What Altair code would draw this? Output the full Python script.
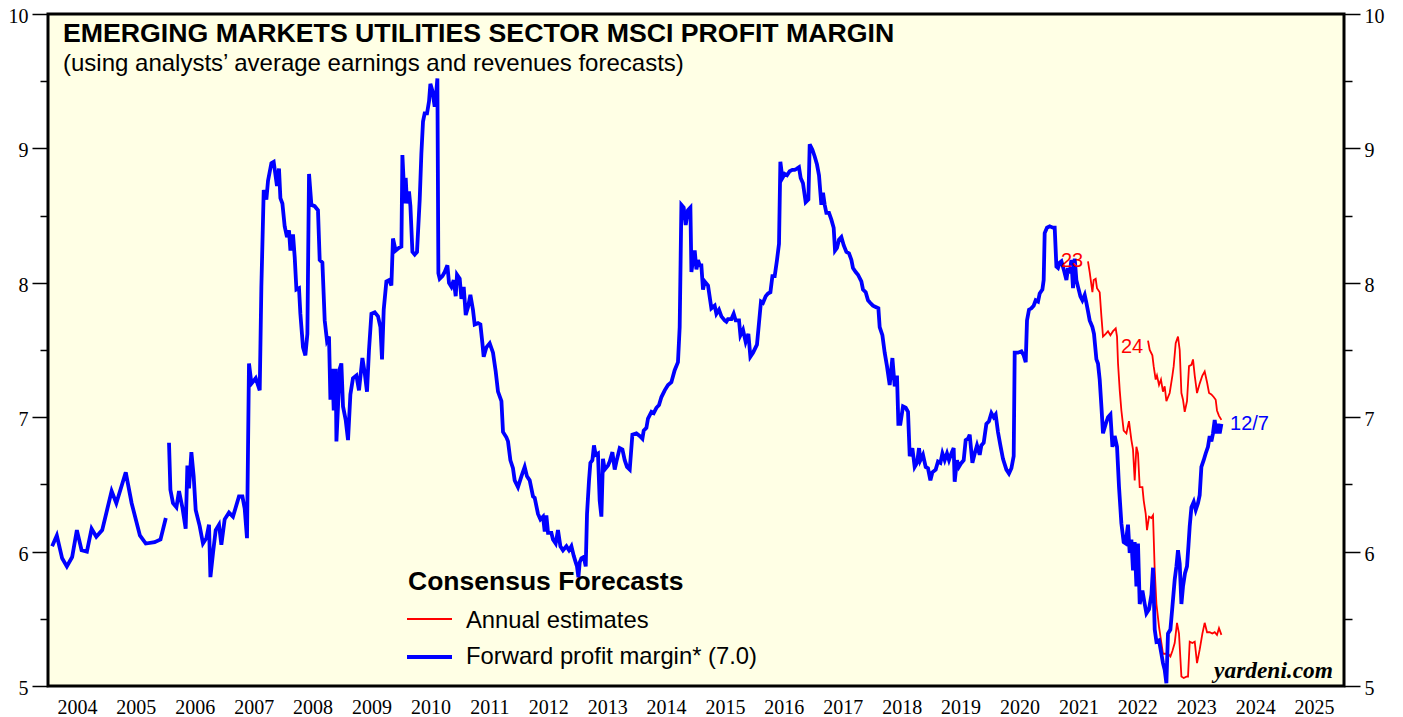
import altair as alt
import pandas as pd

W, H = 1296, 672

# ---------------- data ----------------
# forward profit margin, first stretch (2004-2005)
fwd_a_year = [2004.07, 2004.15, 2004.24, 2004.32, 2004.41, 2004.49, 2004.57, 2004.66, 2004.74, 2004.82,
              2004.92, 2005.08, 2005.16, 2005.32, 2005.42, 2005.56, 2005.66, 2005.81, 2005.91, 2006.00]
fwd_a_val = [6.04, 6.12, 5.95, 5.89, 5.96, 6.16, 6.01, 6.00, 6.17, 6.11,
             6.16, 6.45, 6.36, 6.59, 6.36, 6.12, 6.06, 6.07, 6.09, 6.25]

# forward profit margin 2006 - early 2009
fwd_b_year = [
    2006.054, 2006.078, 2006.122, 2006.180, 2006.224, 2006.281, 2006.337, 2006.366, 2006.394, 2006.434,
    2006.473, 2006.507, 2006.575, 2006.631, 2006.689, 2006.733, 2006.757, 2006.801, 2006.847, 2006.903,
    2006.943, 2006.999, 2007.072, 2007.140, 2007.242, 2007.300, 2007.339, 2007.378, 2007.412, 2007.453,
    2007.526, 2007.594, 2007.622, 2007.662, 2007.707, 2007.735, 2007.792, 2007.831, 2007.887, 2007.921,
    2007.945, 2007.979, 2008.018, 2008.057, 2008.091, 2008.115, 2008.159, 2008.188, 2008.217, 2008.261,
    2008.284, 2008.329, 2008.369, 2008.403, 2008.431, 2008.471, 2008.527, 2008.583, 2008.612, 2008.658,
    2008.697, 2008.736, 2008.770, 2008.794, 2008.828, 2008.850, 2008.884, 2008.896, 2008.923, 2008.952,
    2008.980, 2009.008, 2009.053, 2009.093, 2009.133, 2009.177, 2009.235, 2009.279,
]
fwd_b_val = [
    6.81, 6.46, 6.36, 6.33, 6.45, 6.33, 6.17, 6.64, 6.47, 6.74,
    6.56, 6.31, 6.19, 6.06, 6.10, 6.20, 5.81, 5.99, 6.16, 6.20,
    6.05, 6.24, 6.29, 6.26, 6.41, 6.41, 6.32, 6.10, 7.40, 7.25,
    7.29, 7.20, 7.97, 8.69, 8.62, 8.76, 8.89, 8.90, 8.72, 8.85,
    8.63, 8.59, 8.42, 8.34, 8.39, 8.24, 8.36, 8.19, 7.95, 7.96,
    7.77, 7.52, 7.46, 7.62, 8.81, 8.58, 8.57, 8.54, 8.17, 8.15,
    7.72, 7.57, 7.60, 7.13, 7.36, 7.05, 7.36, 6.82, 7.08, 7.36,
    7.40, 7.08, 6.98, 6.83, 7.17, 7.29, 7.31, 7.20,
]

# forward profit margin 2009 - mid 2014
fwd_c_year = [
    2009.337, 2009.376, 2009.415, 2009.449, 2009.490, 2009.546, 2009.602, 2009.643, 2009.670, 2009.699,
    2009.744, 2009.789, 2009.829, 2009.856, 2009.902, 2009.958, 2009.999, 2010.016, 2010.055, 2010.072,
    2010.094, 2010.128, 2010.152, 2010.186, 2010.225, 2010.264, 2010.310, 2010.338, 2010.366, 2010.394,
    2010.434, 2010.468, 2010.491, 2010.525, 2010.564, 2010.593, 2010.610, 2010.627, 2010.649, 2010.695,
    2010.734, 2010.780, 2010.807, 2010.848, 2010.887, 2010.921, 2010.943, 2010.989, 2011.018, 2011.057,
    2011.091, 2011.130, 2011.170, 2011.214, 2011.243, 2011.299, 2011.340, 2011.374, 2011.396, 2011.442,
    2011.498, 2011.554, 2011.600, 2011.639, 2011.697, 2011.724, 2011.781, 2011.809, 2011.849, 2011.893,
    2011.922, 2011.978, 2012.036, 2012.092, 2012.131, 2012.177, 2012.233, 2012.262, 2012.318, 2012.359,
    2012.403, 2012.432, 2012.460, 2012.488, 2012.545, 2012.572, 2012.618, 2012.657, 2012.698, 2012.742,
    2012.800, 2012.844, 2012.885, 2012.924, 2012.958, 2012.980, 2013.004, 2013.026, 2013.054, 2013.094,
    2013.128, 2013.150, 2013.184, 2013.207, 2013.241, 2013.268, 2013.297, 2013.336, 2013.365, 2013.394,
    2013.421, 2013.450, 2013.506, 2013.535, 2013.581, 2013.620, 2013.649, 2013.705, 2013.751, 2013.790,
    2013.829, 2013.875, 2013.920, 2013.988, 2014.044, 2014.090, 2014.112, 2014.158, 2014.185, 2014.243,
    2014.282, 2014.328, 2014.372, 2014.413, 2014.469, 2014.525, 2014.582, 2014.638, 2014.694, 2014.723,
]
fwd_c_val = [
    7.44, 7.33, 7.19, 7.50, 7.77, 7.78, 7.75, 7.67, 7.43, 7.80,
    8.01, 8.02, 7.98, 8.33, 8.24, 8.26, 8.27, 8.95, 8.59, 8.78,
    8.59, 8.68, 8.57, 8.23, 8.21, 8.23, 8.62, 8.96, 9.20, 9.26,
    9.26, 9.35, 9.48, 9.43, 9.31, 9.43, 9.52, 8.07, 8.03, 8.05,
    8.08, 8.13, 8.00, 7.97, 8.02, 7.90, 8.06, 8.03, 7.88, 7.97,
    7.76, 7.82, 7.91, 7.80, 7.69, 7.70, 7.69, 7.55, 7.45, 7.52,
    7.55, 7.48, 7.34, 7.19, 7.12, 6.89, 6.85, 6.82, 6.68, 6.62,
    6.53, 6.48, 6.56, 6.63, 6.56, 6.53, 6.41, 6.40, 6.28, 6.24,
    6.26, 6.15, 6.27, 6.14, 6.14, 6.09, 6.06, 6.16, 6.04, 6.01,
    6.04, 6.01, 6.04, 5.97, 5.92, 5.89, 5.81, 5.92, 5.95, 5.96,
    5.89, 6.28, 6.53, 6.66, 6.68, 6.79, 6.72, 6.73, 6.38, 6.26,
    6.69, 6.61, 6.64, 6.67, 6.74, 6.61, 6.67, 6.77, 6.76, 6.68,
    6.63, 6.61, 6.87, 6.88, 6.86, 6.84, 6.90, 6.92, 6.99, 7.04,
    7.03, 7.07, 7.09, 7.15, 7.20, 7.24, 7.26, 7.35, 7.41, 7.67,
]

# forward profit margin mid 2014 - Dec 2023
fwd_d_year = [
    2014.752, 2014.791, 2014.825, 2014.864,
    2014.905, 2014.922, 2014.949, 2014.978, 2015.007, 2015.034, 2015.063, 2015.091, 2015.119, 2015.148,
    2015.204, 2015.261, 2015.317, 2015.346, 2015.390, 2015.431, 2015.487, 2015.516, 2015.543, 2015.601,
    2015.640, 2015.674, 2015.730, 2015.754, 2015.798, 2015.843, 2015.889, 2015.923, 2015.968, 2016.035,
    2016.069, 2016.103, 2016.137, 2016.183, 2016.222, 2016.263, 2016.297, 2016.336, 2016.375, 2016.409,
    2016.432, 2016.466, 2016.505, 2016.545, 2016.590, 2016.636, 2016.675, 2016.714, 2016.748, 2016.777,
    2016.816, 2016.862, 2016.908, 2016.930, 2016.976, 2017.015, 2017.054, 2017.088, 2017.128, 2017.156,
    2017.185, 2017.213, 2017.258, 2017.298, 2017.337, 2017.360, 2017.393, 2017.427, 2017.468, 2017.507,
    2017.553, 2017.597, 2017.638, 2017.665, 2017.711, 2017.750, 2017.807, 2017.835, 2017.881, 2017.920,
    2017.960, 2018.004, 2018.050, 2018.096, 2018.118, 2018.164, 2018.203, 2018.242, 2018.288, 2018.334,
    2018.373, 2018.412, 2018.435, 2018.469, 2018.514, 2018.560, 2018.599, 2018.628, 2018.673, 2018.712,
    2018.752, 2018.786, 2018.809, 2018.853, 2018.899, 2018.938, 2018.979, 2019.013, 2019.069, 2019.108,
    2019.149, 2019.183, 2019.222, 2019.261, 2019.295, 2019.335, 2019.374, 2019.391, 2019.430, 2019.464,
    2019.505, 2019.544, 2019.578, 2019.617, 2019.646, 2019.692, 2019.731, 2019.770, 2019.816, 2019.844,
    2019.884, 2019.929, 2019.973, 2020.014, 2020.053, 2020.087, 2020.126, 2020.167, 2020.211, 2020.269,
    2020.313, 2020.354, 2020.393, 2020.410, 2020.466, 2020.524, 2020.563, 2020.597, 2020.619, 2020.653,
    2020.693, 2020.732, 2020.766, 2020.806, 2020.834, 2020.880, 2020.902, 2020.919, 2020.958, 2021.004,
    2021.060, 2021.089, 2021.118, 2021.145, 2021.174, 2021.203, 2021.242, 2021.288, 2021.315, 2021.344,
    2021.372, 2021.400, 2021.429, 2021.457, 2021.485, 2021.525, 2021.559, 2021.598, 2021.627, 2021.654,
    2021.683, 2021.729, 2021.756, 2021.797, 2021.824, 2021.853, 2021.882, 2021.909, 2021.955, 2021.994,
    2022.035, 2022.069, 2022.107, 2022.147, 2022.181, 2022.221, 2022.260, 2022.294, 2022.333, 2022.362,
    2022.391, 2022.418, 2022.447, 2022.476, 2022.503, 2022.532, 2022.578, 2022.617, 2022.646, 2022.690,
    2022.731, 2022.758, 2022.787, 2022.816, 2022.860, 2022.900, 2022.927, 2022.956, 2022.985, 2023.012,
    2023.053, 2023.087, 2023.126, 2023.155, 2023.182, 2023.211, 2023.240, 2023.267, 2023.301, 2023.335,
    2023.359, 2023.381, 2023.410, 2023.449, 2023.483, 2023.521, 2023.550, 2023.579, 2023.618, 2023.652,
    2023.691, 2023.720, 2023.749, 2023.776, 2023.805, 2023.834, 2023.861, 2023.890, 2023.919,
]
fwd_d_val = [
    8.58, 8.56, 8.43, 8.54,
    8.56, 8.08, 8.17, 8.24, 8.10, 8.17, 8.13, 8.13, 7.95, 8.01,
    7.98, 7.81, 7.83, 7.77, 7.80, 7.75, 7.72, 7.71, 7.73, 7.73,
    7.77, 7.72, 7.72, 7.61, 7.65, 7.56, 7.62, 7.45, 7.48, 7.54,
    7.70, 7.86, 7.85, 7.90, 7.92, 7.93, 8.05, 8.05, 8.17, 8.29,
    8.90, 8.78, 8.81, 8.80, 8.83, 8.84, 8.84, 8.85, 8.86, 8.78,
    8.74, 8.60, 8.62, 9.03, 8.99, 8.94, 8.88, 8.80, 8.58, 8.67,
    8.58, 8.52, 8.52, 8.47, 8.41, 8.24, 8.26, 8.32, 8.34, 8.28,
    8.23, 8.22, 8.17, 8.11, 8.08, 8.06, 8.01, 7.95, 7.93, 7.87,
    7.85, 7.83, 7.82, 7.81, 7.67, 7.61, 7.48, 7.38, 7.24, 7.44,
    7.23, 7.31, 6.95, 6.95, 7.08, 7.07, 7.04, 6.71, 6.77, 6.63,
    6.66, 6.77, 6.68, 6.72, 6.63, 6.62, 6.53, 6.59, 6.61, 6.67,
    6.66, 6.73, 6.68, 6.73, 6.68, 6.73, 6.77, 6.52, 6.68, 6.63,
    6.66, 6.68, 6.83, 6.84, 6.87, 6.66, 6.73, 6.79, 6.72, 6.79,
    6.81, 6.95, 6.97, 7.03, 7.00, 7.02, 6.89, 6.79, 6.69, 6.61,
    6.58, 6.62, 6.71, 7.48, 7.48, 7.49, 7.46, 7.41, 7.72, 7.80,
    7.81, 7.83, 7.87, 7.86, 7.92, 7.95, 8.02, 8.37, 8.41, 8.42,
    8.41, 8.41, 8.12, 8.11, 8.15, 8.16, 8.10, 8.02, 8.11, 8.07,
    8.17, 7.96, 8.18, 8.02, 7.97, 7.90, 7.87, 7.91, 7.85, 7.79,
    7.72, 7.67, 7.62, 7.43, 7.40, 7.28, 7.08, 6.88, 6.95, 7.00,
    7.02, 6.78, 6.86, 6.78, 6.48, 6.21, 6.07, 6.06, 6.20, 5.99,
    6.09, 5.86, 6.07, 5.74, 6.06, 5.61, 5.71, 5.61, 5.54, 5.57,
    5.68, 5.88, 5.42, 5.33, 5.34, 5.24, 5.17, 5.12, 5.02, 5.39,
    5.42, 5.59, 5.79, 5.89, 6.01, 5.91, 5.61, 5.74, 5.84, 5.89,
    6.04, 6.19, 6.33, 6.37, 6.31, 6.36, 6.42, 6.63, 6.68, 6.73,
    6.78, 6.86, 6.82, 6.88, 6.98, 6.88, 6.95, 6.88, 6.95,
]

# annual consensus estimates
est23_year = [
    2021.654, 2021.683, 2021.729, 2021.751, 2021.785, 2021.807, 2021.853, 2021.882, 2021.909, 2021.955,
    2021.994, 2022.035, 2022.079, 2022.125, 2022.147, 2022.164, 2022.193, 2022.221, 2022.260, 2022.306,
    2022.350, 2022.391, 2022.418, 2022.447, 2022.476, 2022.503, 2022.532, 2022.578, 2022.600, 2022.634,
    2022.656, 2022.690, 2022.731, 2022.758, 2022.787, 2022.816, 2022.860, 2022.900, 2022.927, 2022.974,
    2023.012, 2023.053, 2023.087, 2023.126, 2023.165, 2023.199, 2023.240, 2023.279, 2023.325, 2023.352,
    2023.381, 2023.426, 2023.466, 2023.505, 2023.550, 2023.596, 2023.635, 2023.675, 2023.720, 2023.765,
    2023.805, 2023.844, 2023.878, 2023.919,
]
est23_val = [
    8.16, 8.08, 7.93, 8.02, 8.03, 7.96, 7.93, 7.75, 7.60, 7.62,
    7.64, 7.61, 7.64, 7.66, 7.60, 7.40, 7.20, 7.05, 6.90, 6.88,
    6.97, 6.83, 6.76, 6.53, 6.78, 6.73, 6.48, 6.48, 6.38, 6.28,
    6.16, 6.26, 6.25, 6.27, 5.86, 5.61, 5.44, 5.32, 5.24, 5.24,
    5.24, 5.22, 5.26, 5.32, 5.47, 5.39, 5.07, 5.06, 5.07, 5.07,
    5.33, 5.32, 5.33, 5.17, 5.27, 5.39, 5.47, 5.40, 5.40, 5.39,
    5.40, 5.38, 5.43, 5.38,
]

est24_year = [
    2022.673, 2022.702, 2022.747, 2022.769, 2022.803, 2022.825, 2022.860, 2022.893, 2022.927, 2022.956,
    2022.985, 2023.041, 2023.087, 2023.109, 2023.143, 2023.182, 2023.211, 2023.240, 2023.267, 2023.296,
    2023.335, 2023.369, 2023.410, 2023.437, 2023.466, 2023.505, 2023.550, 2023.596, 2023.635, 2023.675,
    2023.709, 2023.749, 2023.788, 2023.822, 2023.844, 2023.878, 2023.919,
]
est24_val = [
    7.57, 7.50, 7.46, 7.38, 7.28, 7.31, 7.24, 7.28, 7.19, 7.23,
    7.12, 7.18, 7.31, 7.38, 7.55, 7.60, 7.50, 7.18, 7.13, 7.04,
    7.12, 7.38, 7.39, 7.43, 7.31, 7.18, 7.25, 7.31, 7.34, 7.26,
    7.18, 7.17, 7.15, 7.13, 7.05, 7.01, 6.98,
]

year_labels = [str(y) for y in range(2004, 2026)]
y_ticks = [5, 5.5, 6, 6.5, 7, 7.5, 8, 8.5, 9, 9.5, 10]

title_text = "EMERGING MARKETS UTILITIES SECTOR MSCI PROFIT MARGIN"
subtitle_text = "(using analysts\u2019 average earnings and revenues forecasts)"
legend_title = "Consensus Forecasts"
legend_red = "Annual estimates"
legend_blue = "Forward profit margin* (7.0)"

# ---------------- frames ----------------
blue = pd.concat([
    pd.DataFrame({"year": fwd_a_year, "value": fwd_a_val, "seg": "a"}),
    pd.DataFrame({"year": fwd_b_year, "value": fwd_b_val, "seg": "b"}),
    pd.DataFrame({"year": fwd_c_year, "value": fwd_c_val, "seg": "b"}),
    pd.DataFrame({"year": fwd_d_year, "value": fwd_d_val, "seg": "b"}),
])
red = pd.concat([
    pd.DataFrame({"year": est23_year, "value": est23_val, "est": "23"}),
    pd.DataFrame({"year": est24_year, "value": est24_val, "est": "24"}),
])
red_labels = pd.DataFrame({"year": [2021.64, 2022.66], "value": [8.16, 7.52], "t": ["23", "24"]})
blue_label = pd.DataFrame({"year": [2023.93], "value": [6.95], "t": ["12/7"]})
years_df = pd.DataFrame({"yr": list(range(2004, 2026)), "lab": year_labels})
one = pd.DataFrame({"a": [0]})

SANS = "Liberation Sans"
SERIF = "Liberation Serif"

xscale = alt.Scale(domain=[2004, 2026], nice=False, zero=False)
yscale = alt.Scale(domain=[5, 10], nice=False, zero=False)

xaxis = alt.Axis(values=list(range(2004, 2027)), labels=False, tickSize=16, tickWidth=2.5,
                 tickColor="black", domain=False, grid=False, title=None)
X = alt.X("year:Q", scale=xscale, axis=xaxis)

tick_cond = {"condition": {"test": "datum.value % 1 === 0", "value": 16}, "value": 8}


def yaxis(orient):
    return alt.Axis(orient=orient, values=y_ticks,
                    labelExpr="datum.value % 1 === 0 ? format(datum.value, 'd') : ''",
                    tickSize=tick_cond, tickWidth=1.5, tickColor="black",
                    domain=False, grid=False, title=None, labelOffset=2.5,
                    labelFont=SERIF, labelFontSize=20, labelColor="black", labelPadding=4)


blue_line = alt.Chart(blue).mark_line(color="#0000FF", strokeWidth=3.8).encode(
    x=X, y=alt.Y("value:Q", scale=yscale, axis=yaxis("left")), detail="seg:N")

red_line = alt.Chart(red).mark_line(color="#FF0000", strokeWidth=1.8).encode(
    x=X, y=alt.Y("value:Q", scale=yscale, axis=yaxis("right")), detail="est:N")

red_text = alt.Chart(red_labels).mark_text(
    align="right", baseline="middle", dx=-4, font=SANS, fontSize=20, color="#FF0000").encode(
    x=alt.X("year:Q", scale=xscale, axis=None), y=alt.Y("value:Q", scale=yscale, axis=None), text="t:N")

blue_text = alt.Chart(blue_label).mark_text(
    align="left", baseline="middle", dx=8, font=SANS, fontSize=20, color="#0000FF").encode(
    x=alt.X("year:Q", scale=xscale, axis=None), y=alt.Y("value:Q", scale=yscale, axis=None), text="t:N")

year_text = alt.Chart(years_df).transform_calculate(mid="datum.yr + 0.5").mark_text(
    align="center", baseline="alphabetic", font=SERIF, fontSize=20, color="black").encode(
    x=alt.X("mid:Q", scale=xscale, axis=None), y=alt.value(H + 28), text="lab:N")


def label(text, x, y, size, weight="normal", align="left", font=SANS, style="normal", color="black"):
    return alt.Chart(one).mark_text(
        text=text, align=align, baseline="alphabetic", font=font, fontSize=size,
        fontWeight=weight, fontStyle=style, color=color).encode(x=alt.value(x), y=alt.value(y))


title = label(title_text, 15, 28, 26.7, weight="bold")
subtitle = label(subtitle_text, 15, 57, 24)
leg_head = label(legend_title, 360, 576, 26.5, weight="bold")
leg_red_t = label(legend_red, 418, 614, 23.8)
leg_blue_t = label(legend_blue, 418, 650, 23.8)
yardeni = label("yardeni.com", 1285, 664, 23.4, weight="bold", align="right", font=SERIF, style="italic")

leg_red_line = alt.Chart(one).mark_rule(color="#FF0000", strokeWidth=2).encode(
    x=alt.value(359), x2=alt.value(404), y=alt.value(605))
leg_blue_line = alt.Chart(one).mark_rule(color="#0000FF", strokeWidth=4).encode(
    x=alt.value(359), x2=alt.value(404), y=alt.value(643))

chart = alt.layer(
    title, subtitle, leg_head, leg_red_t, leg_blue_t, leg_red_line, leg_blue_line, yardeni,
    red_line, blue_line, red_text, blue_text, year_text,
).resolve_axis(y="independent").properties(
    width=W, height=H,
    autosize=alt.AutoSizeParams(type="none"),
    padding={"left": 40, "top": 6, "right": 48, "bottom": 31},
).configure_view(fill="#FFFFE5", stroke="black", strokeWidth=3)

chart.save("out.html", embed_options={"renderer": "svg", "actions": False})
